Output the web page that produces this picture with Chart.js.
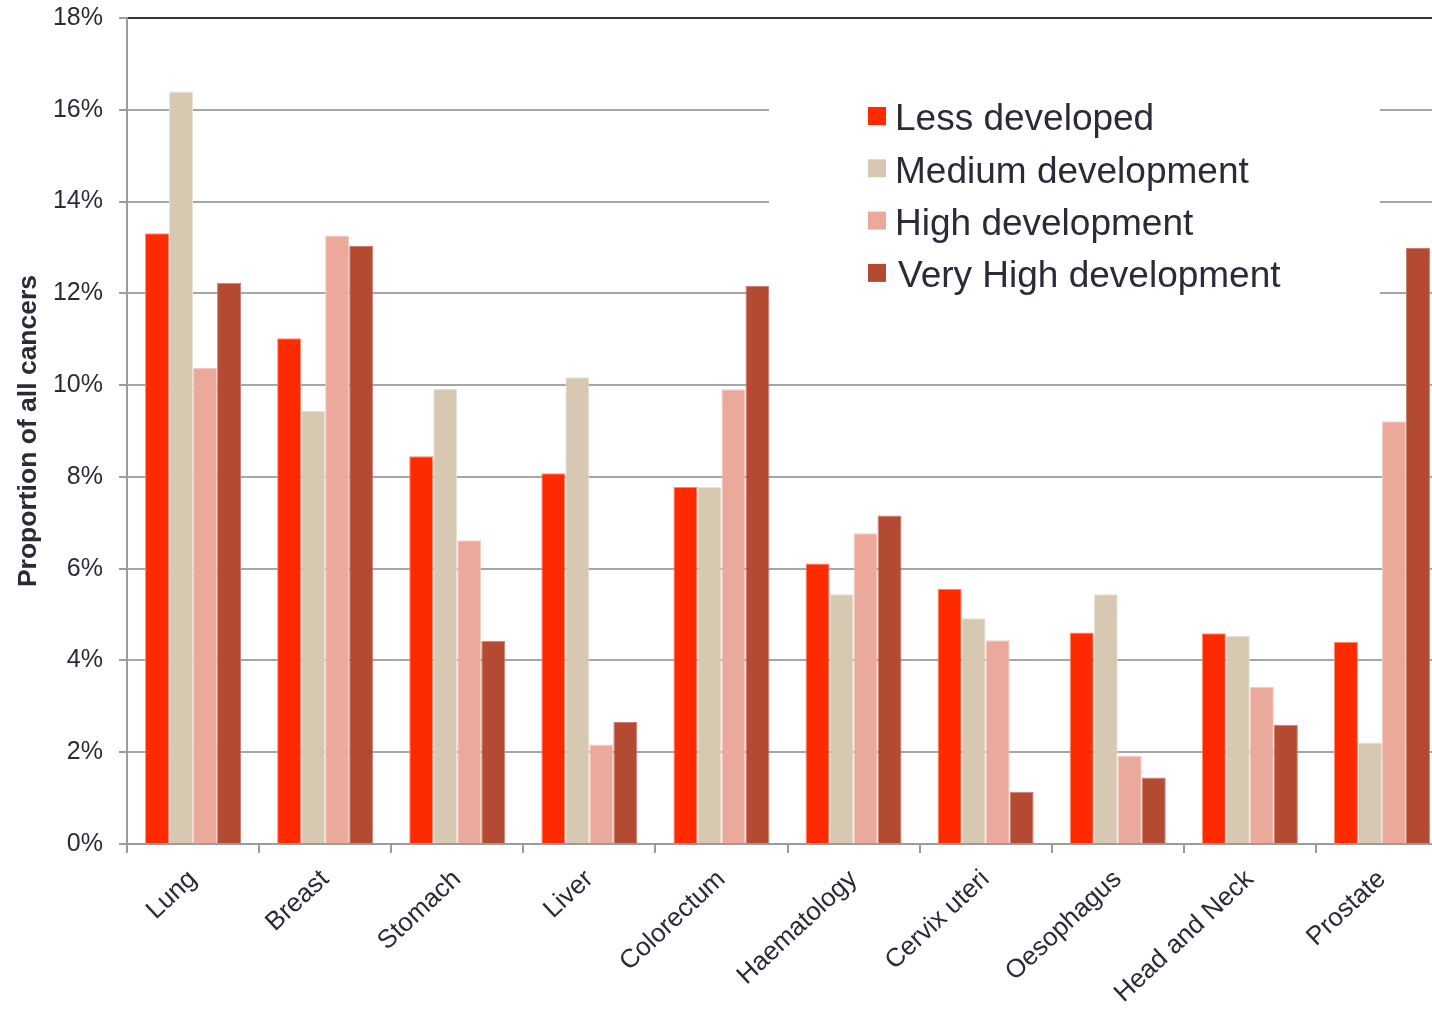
<!DOCTYPE html>
<html>
<head>
<meta charset="utf-8">
<script src="https://cdn.jsdelivr.net/npm/chart.js@4"></script>
<style>
  html, body { margin: 0; padding: 0; background: #fff; overflow: hidden; }
  #wrap { width: 1432px; height: 1009px; overflow: hidden; }
</style>
</head>
<body>
<div id="wrap"><canvas id="myChart" width="1448" height="1009"></canvas></div>
<script>
// cancer sites and share of all cancers (%) by development level
const sites = ['Lung', 'Breast', 'Stomach', 'Liver', 'Colorectum', 'Haematology', 'Cervix uteri', 'Oesophagus', 'Head and Neck', 'Prostate']
const lessDeveloped = [13.31, 11.02, 8.45, 8.08, 7.78, 6.11, 5.56, 4.61, 4.59, 4.41]
const mediumDev = [16.4, 9.44, 9.92, 10.17, 7.78, 5.44, 4.92, 5.44, 4.54, 2.21]
const highDev = [10.38, 13.26, 6.62, 2.17, 9.91, 6.77, 4.44, 1.92, 3.42, 9.21]
const veryHighDev = [12.23, 13.03, 4.43, 2.66, 12.16, 7.16, 1.14, 1.45, 2.6, 12.99]
const seriesNames = ['Less developed', 'Medium development', 'High development', 'Very High development']
const yTicks = [0, 2, 4, 6, 8, 10, 12, 14, 16, 18]

const colors = ['#ff2a00', '#d7c8b2', '#eba99b', '#b44a32']
const edges = ['#ff8a70', '#ece2d4', '#f5ccc3', '#c9806f']
const font = '"Liberation Sans", Arial, Helvetica, sans-serif'
const textColor = '#2b2b38'

// legend drawn on a white box over the plot
const boxLegend = {
    id: 'boxLegend',
    afterDatasetsDraw(chart) {
        const c = chart.ctx
        c.save()
        c.fillStyle = '#fff'
        c.fillRect(769, 60, 611, 238)
        c.font = '37px ' + font
        c.textBaseline = 'middle'
        chart.data.datasets.forEach((ds, i) => {
            const y = 119 + i * 52.3
            c.fillStyle = ds.backgroundColor
            c.fillRect(868, y - 12, 18, 18)
            c.fillStyle = textColor
            c.fillText(ds.label, i === 3 ? 898 : 895, y + 1)
        })
        c.restore()
    }
}

drawBars = () => {
    const ctx = document.getElementById('myChart').getContext('2d')
    const sets = [lessDeveloped, mediumDev, highDev, veryHighDev]
    const data = {
        labels: sites,
        datasets: sets.map((vals, i) => ({
            label: seriesNames[i],
            data: vals,
            backgroundColor: colors[i],
            borderColor: edges[i],
            borderWidth: 1,
            categoryPercentage: 0.727,
            barPercentage: 1.0
        }))
    }
    const options = {
        responsive: false,
        animation: false,
        layout: { padding: { top: 18, right: 0, left: 1, bottom: 0 } },
        plugins: { legend: { display: false }, tooltip: { enabled: false } },
        scales: {
            x: {
                afterFit: (s) => { s.height = 165 },
                border: { color: '#9c9c9c', width: 2 },
                grid: { drawOnChartArea: false, color: '#9c9c9c', tickLength: 9, lineWidth: 2 },
                ticks: {
                    color: textColor,
                    font: { family: font, size: 26 },
                    minRotation: 43, maxRotation: 43,
                    padding: 11,
                    autoSkip: false
                }
            },
            y: {
                min: 0, max: 18,
                afterFit: (s) => { s.width = 126; s.paddingTop = 0; s.paddingBottom = 0 },
                afterBuildTicks: (s) => { s.ticks = yTicks.map(v => ({ value: v })) },
                border: { color: '#9c9c9c', width: 2 },
                grid: {
                    color: (c) => c.tick && c.tick.value === 18 ? '#33333d' : '#a6a6a6',
                    tickColor: '#9c9c9c',
                    lineWidth: 2,
                    tickLength: 8
                },
                ticks: {
                    color: textColor,
                    font: { family: font, size: 25 },
                    padding: 16,
                    callback: (v) => v + '%'
                },
                title: {
                    display: true,
                    text: 'Proportion of all cancers',
                    color: textColor,
                    font: { family: font, size: 26.5, weight: 'bold' },
                    padding: { top: 12, bottom: 0 }
                }
            }
        }
    }
    new Chart(ctx, { type: 'bar', data: data, options: options, plugins: [boxLegend] })
}

drawBars()
</script>
</body>
</html>
